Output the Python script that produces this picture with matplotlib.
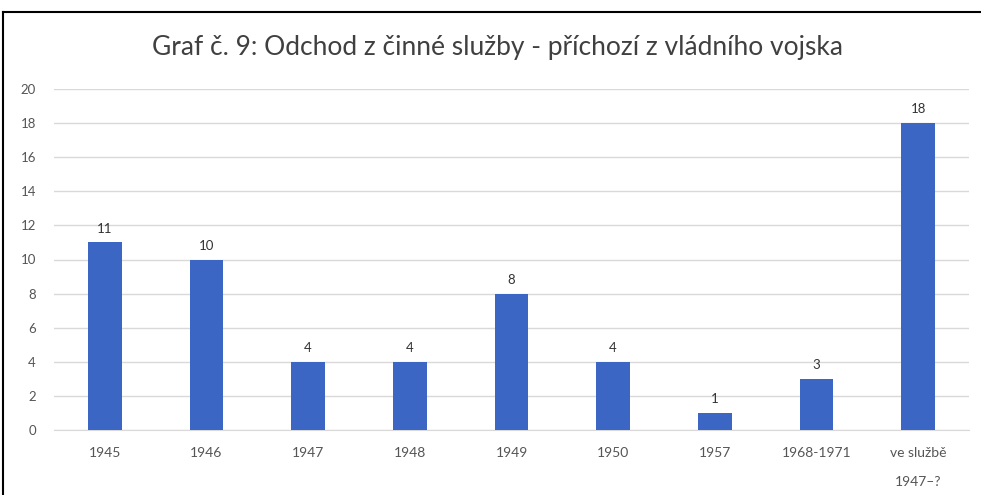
import matplotlib.pyplot as plt
from matplotlib.lines import Line2D

categories = ["1945", "1946", "1947", "1948", "1949", "1950", "1957", "1968-1971", "ve službě\n1947–?"]
values = [11, 10, 4, 4, 8, 4, 1, 3, 18]
yticks = list(range(0, 21, 2))

plt.rcParams['font.family'] = ['Lato', 'DejaVu Sans']

fig = plt.figure(figsize=(9.81, 4.95), dpi=100)
ax = fig.add_axes([54 / 981, 65 / 495, 915 / 981, 341 / 495])

x = range(len(categories))
bars = ax.bar(x, values, width=0.33, color="#3b66c3", zorder=3)
for xi, v in zip(x, values):
    ax.text(xi, v + 0.45, str(v), ha="center", va="bottom", fontsize=9.5, color="#333333")

ax.set_xlim(-0.5, len(categories) - 0.5)
ax.set_ylim(0, 20)
ax.set_yticks(yticks)
ax.set_xticks(list(x))
ax.set_xticklabels(categories, fontsize=10, color="#555555")
for lbl in ax.get_xticklabels():
    lbl.set_linespacing(2.7)
ax.tick_params(axis="y", labelsize=9.5, labelcolor="#555555", length=0, pad=13)
ax.tick_params(axis="x", length=0, pad=12)
ax.grid(axis="y", color="#d9d9d9", linewidth=1, zorder=0)
for s in ["top", "right", "left"]:
    ax.spines[s].set_visible(False)
ax.spines["bottom"].set_color("#d9d9d9")

fig.text(498 / 981, 1 - 48 / 495, "Graf č. 9: Odchod z činné služby - příchozí z vládního vojska",
         ha="center", va="center", fontsize=19, color="#404040")

# frame around the figure (top and left edges visible)
fig.add_artist(Line2D([3 / 981, 3 / 981], [0, 1 - 12 / 495], color="black", linewidth=1.5, transform=fig.transFigure))
fig.add_artist(Line2D([3 / 981, 1], [1 - 12 / 495, 1 - 12 / 495], color="black", linewidth=1.5, transform=fig.transFigure))

fig.savefig("out.png", dpi=100)
